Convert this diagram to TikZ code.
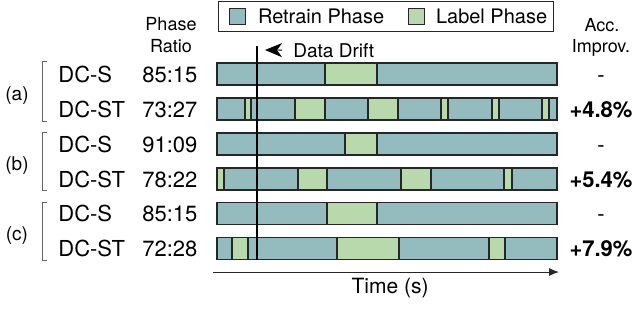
\documentclass[tikz,border=0pt]{standalone}
\usepackage{fontspec}
\setmainfont{TeX Gyre Heros}
\definecolor{retrainC}{RGB}{148,188,190}
\definecolor{labelC}{RGB}{184,217,171}
\definecolor{edgeC}{RGB}{38,38,38}
\usetikzlibrary{arrows.meta, positioning}
\tikzset{
    retrain/.style={fill=retrainC, draw=edgeC, line width=0.6pt},
    labelph/.style={fill=labelC, draw=edgeC, line width=0.6pt},
    rowtxt/.style={font=\fontsize{11}{13}\selectfont, anchor=base west, inner sep=0pt},
    headtxt/.style={font=\fontsize{9}{11}\selectfont, anchor=base, inner sep=0pt},
}

\begin{document}
\begin{tikzpicture}[x=0.5pt, y=-0.5pt]
                \useasboundingbox (0,0) rectangle (640,334);

                % Legend
                \node[draw=edgeC, line width=0.5pt, minimum width=167.5pt, minimum height=15pt, inner sep=0pt] (legend) at (385.5,16) {};
                \node[retrain, minimum size=8pt, inner sep=0pt] (keyR) at (237.5,16.5) {};
                \node[font=\fontsize{10}{12}\selectfont, inner sep=0pt, right=5.75pt of keyR] (keyRtxt) {Retrain Phase};
                \node[labelph, minimum size=8pt, inner sep=0pt] (keyL) at (416.5,16.5) {};
                \node[font=\fontsize{10}{12}\selectfont, inner sep=0pt, right=5.25pt of keyL] (keyLtxt) {Label Phase};

                % Column headers
                \node[headtxt] (phase) at (171,30) {Phase};
                \node[headtxt] (ratio) at (171,52) {Ratio};
                \node[headtxt] (acc) at (602,31) {Acc.};
                \node[headtxt] (improv) at (601,52) {Improv.};

                % Phase bars (retrain background, label phases on top)
                \foreach \yc/\greens in {74/{325/377},
                        109/{245/251,295/325,368/398,441/448,492/499,542/549},
                        144/{345/377},
                        179/{217/224,298/327,401/431,504/512},
                        213.5/{327/377},
                        248.5/{232/248,337/399,489/505}} {
                    \draw[retrain] (217,{\yc-11}) rectangle (557,{\yc+11});
                    \foreach \a/\b in \greens
                        \draw[labelph] (\a,{\yc-11}) rectangle (\b,{\yc+11});
                }

                % Row labels, ratios and accuracy gains
                \foreach \yc/\sysname/\share/\gain [count=\i] in {74/DC-S/85:15/-,
                        109/DC-ST/73:27/\textbf{+4.8\%}, 144/DC-S/91:09/-,
                        179/DC-ST/78:22/\textbf{+5.4\%}, 213.5/DC-S/85:15/-,
                        248.5/DC-ST/72:28/\textbf{+7.9\%}} {
                    \node[rowtxt] (sys\i) at (58,{\yc+8}) {\sysname};
                    \node[rowtxt] (share\i) at (142,{\yc+8}) {\share};
                    \node[rowtxt, anchor=base] (gain\i) at (601,{\yc+8}) {\gain};
                }

                % Group brackets
                \foreach \ya/\yb/\grp in {61/121/a, 132/190/b, 202/260/c} {
                    \draw[gray!80!black, line width=0.5pt] (47,\ya) -- (42,\ya) -- (42,\yb) -- (47,\yb);
                    \node[font=\fontsize{9.5}{11}\selectfont, inner sep=0pt] (grp\grp) at (17,{(\ya+\yb)/2+5}) {(\grp)};
                }

                % Data drift marker
                \draw[line width=1pt] (257,46) -- (257,260);
                \node[font=\fontsize{9.5}{11}\selectfont, anchor=base west, inner sep=0pt] (drift) at (293,57) {Data Drift};
                \coordinate (drifttip) at (265,50);
                \draw[-{Stealth[length=8.5pt, width=7pt, inset=2.5pt]}, shorten <=5.5pt] (drift.west) -- (drifttip);

                % Time axis
                \coordinate (tstart) at (213,272);
                \coordinate (tend) at (559,272);
                \draw[-{Latex[length=5pt, width=4pt]}, line width=0.5pt, edgeC] (tstart) -- (tend);
                \node[font=\fontsize{10.5}{12}\selectfont, anchor=base, inner sep=0pt] (timelbl) at (390,293) {Time (s)};
            \end{tikzpicture}
\end{document}
